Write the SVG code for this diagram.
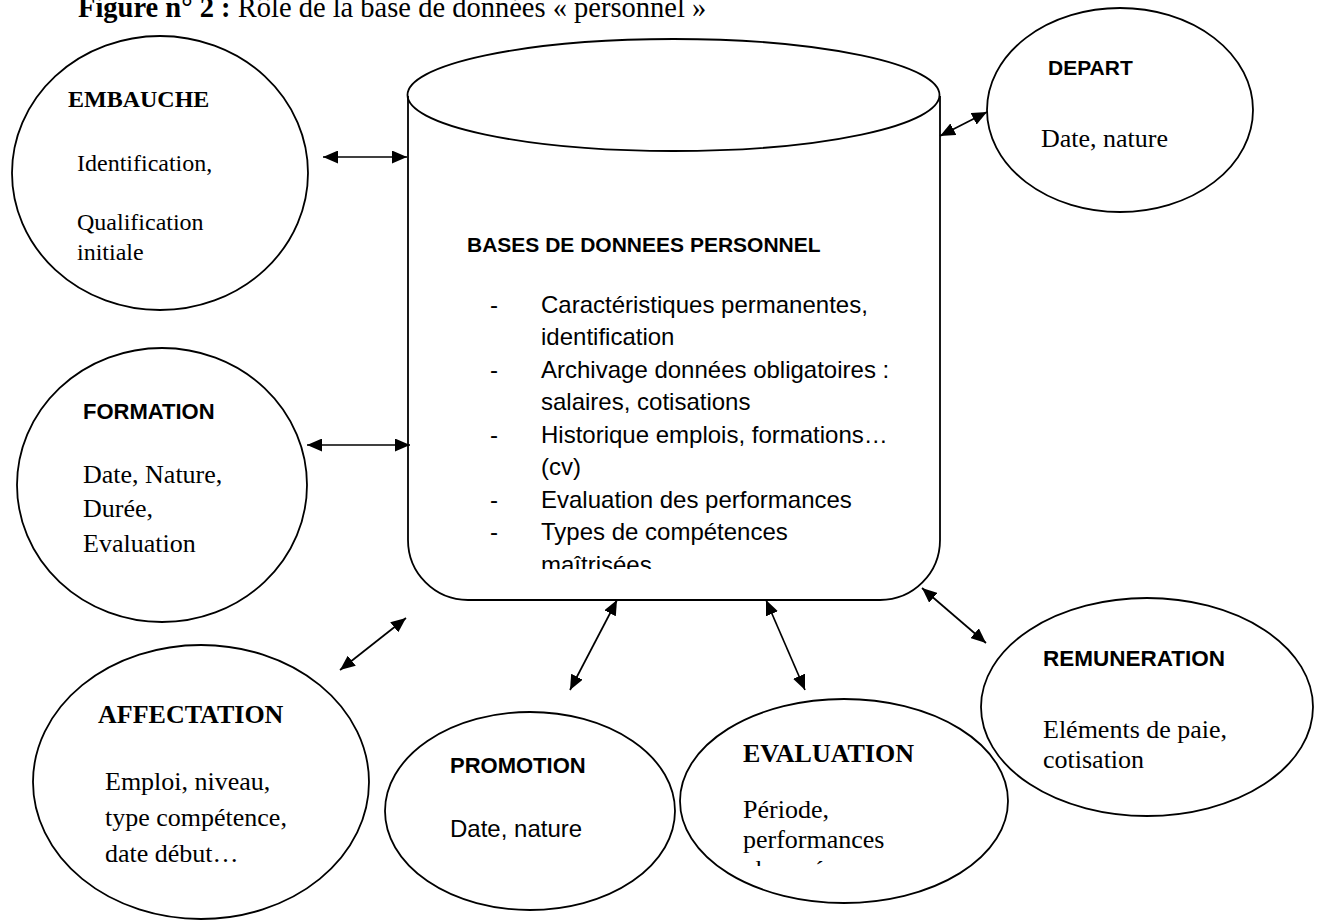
<svg xmlns="http://www.w3.org/2000/svg" width="1323" height="920" viewBox="0 0 1323 920">
<style>
.shape{fill:none;stroke:#000;stroke-width:1.8}
.conn{stroke:#000;stroke-width:1.7;fill:none;marker-start:url(#ah);marker-end:url(#ah)}
.serif{font-family:"Liberation Serif","Times New Roman",serif;fill:#000}
.sans{font-family:"Liberation Sans",Arial,sans-serif;fill:#000}
.b{font-weight:bold}
</style>
<defs>
<marker id="ah" viewBox="0 0 15 13" refX="15" refY="6.5" markerWidth="15" markerHeight="13" markerUnits="userSpaceOnUse" orient="auto-start-reverse">
<path d="M0,0 L15,6.5 L0,13 z" fill="#000"/>
</marker>
<clipPath id="clipDb"><rect x="400" y="200" width="540" height="369"/></clipPath>
<clipPath id="clipEval"><rect x="680" y="690" width="330" height="176"/></clipPath>
</defs>
<rect width="1323" height="920" fill="#fff"/>

<g id="title">
<text class="serif" x="78" y="17" font-size="28.5"><tspan class="b">Figure n° 2 :</tspan> Rôle de la base de données « personnel »</text>
</g>

<g id="db">
<path class="shape" d="M408,96 L408,540 A60,60 0 0 0 468,600 L880,600 A60,60 0 0 0 940,540 L940,96"/>
<ellipse class="shape" cx="673.5" cy="95" rx="266" ry="56"/>
<text class="sans b" x="467" y="252" font-size="21">BASES DE DONNEES PERSONNEL</text>
<g class="sans" font-size="24" clip-path="url(#clipDb)">
<text x="490" y="313">-</text>
<text x="541" y="313">Caractéristiques permanentes,</text>
<text x="541" y="345">identification</text>
<text x="490" y="378">-</text>
<text x="541" y="378">Archivage données obligatoires :</text>
<text x="541" y="410">salaires, cotisations</text>
<text x="490" y="443">-</text>
<text x="541" y="443">Historique emplois, formations…</text>
<text x="541" y="475">(cv)</text>
<text x="490" y="508">-</text>
<text x="541" y="508">Evaluation des performances</text>
<text x="490" y="540">-</text>
<text x="541" y="540">Types de compétences</text>
<text x="541" y="573">maîtrisées</text>
</g>
</g>

<g id="embauche">
<ellipse class="shape" cx="160" cy="173" rx="148" ry="137"/>
<text class="serif b" x="68" y="107" font-size="24">EMBAUCHE</text>
<text class="serif" x="77" y="171" font-size="24">Identification,</text>
<text class="serif" x="77" y="230" font-size="24">Qualification</text>
<text class="serif" x="77" y="260" font-size="24">initiale</text>
</g>

<g id="formation">
<ellipse class="shape" cx="162" cy="485" rx="145" ry="137"/>
<text class="sans b" x="83" y="419" font-size="22">FORMATION</text>
<text class="serif" x="83" y="483" font-size="26">Date, Nature,</text>
<text class="serif" x="83" y="517" font-size="26">Durée,</text>
<text class="serif" x="83" y="552" font-size="26">Evaluation</text>
</g>

<g id="affectation">
<ellipse class="shape" cx="201" cy="782" rx="168" ry="137"/>
<text class="serif b" x="98" y="723" font-size="26">AFFECTATION</text>
<text class="serif" x="105" y="790" font-size="26">Emploi, niveau,</text>
<text class="serif" x="105" y="826" font-size="26">type compétence,</text>
<text class="serif" x="105" y="862" font-size="26">date début…</text>
</g>

<g id="promotion">
<ellipse class="shape" cx="530" cy="811" rx="145" ry="99"/>
<text class="sans b" x="450" y="773" font-size="22">PROMOTION</text>
<text class="sans" x="450" y="837" font-size="24">Date, nature</text>
</g>

<g id="evaluation">
<ellipse class="shape" cx="844" cy="801" rx="164" ry="102"/>
<text class="serif b" x="743" y="762" font-size="26">EVALUATION</text>
<text class="serif" x="743" y="818" font-size="26">Période,</text>
<text class="serif" x="743" y="848" font-size="26">performances</text>
<text class="serif" x="743" y="878" font-size="26" clip-path="url(#clipEval)">observées</text>
</g>

<g id="remuneration">
<ellipse class="shape" cx="1147" cy="707" rx="166" ry="109"/>
<text class="sans b" x="1043" y="666" font-size="22.5">REMUNERATION</text>
<text class="serif" x="1043" y="738" font-size="26">Eléments de paie,</text>
<text class="serif" x="1043" y="768" font-size="26">cotisation</text>
</g>

<g id="depart">
<ellipse class="shape" cx="1120" cy="110" rx="133" ry="102"/>
<text class="sans b" x="1048" y="75" font-size="21">DEPART</text>
<text class="serif" x="1041" y="147" font-size="26">Date, nature</text>
</g>

<g id="connectors">
<line class="conn" x1="323" y1="157" x2="407" y2="157"/>
<line class="conn" x1="307" y1="445" x2="410" y2="445"/>
<line class="conn" x1="940" y1="136" x2="987" y2="112"/>
<line class="conn" x1="340" y1="670" x2="406" y2="618"/>
<line class="conn" x1="570" y1="690" x2="617" y2="600"/>
<line class="conn" x1="766" y1="600" x2="805" y2="690"/>
<line class="conn" x1="922" y1="588" x2="986" y2="643"/>
</g>
</svg>
